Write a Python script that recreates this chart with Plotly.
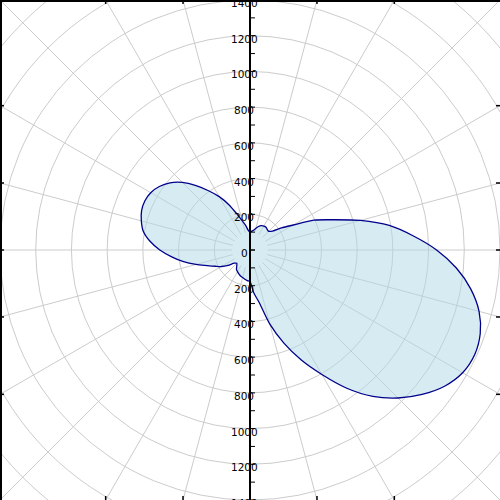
import numpy as np
import plotly.graph_objects as go

# ---- data ----
theta_deg = list(range(0, 360, 5))
radius = [
    1045, 916, 792, 640, 495, 395, 280, 215, 165, 148,      # 0-45
    150, 156, 155, 150, 140, 125, 112, 105, 100, 110,       # 50-95
    140, 170, 215, 280, 345, 405, 470, 535, 585, 620,       # 100-145
    642, 650, 646, 630, 607, 562, 505, 440, 378, 313,       # 150-195
    255, 215, 185, 150, 115, 105, 115, 132, 140, 148,       # 200-245
    155, 160, 166, 172, 177, 240, 300, 430, 555, 680,       # 250-295
    805, 945, 1070, 1172, 1258, 1330, 1375, 1388, 1372, 1328, 1255, 1160,  # 300-355
]
radial_labels = [0, 200, 400, 600, 800, 1000, 1200, 1400]
grid_circles = [200, 400, 600, 800, 1000, 1200, 1400, 1600, 1800, 2000]
spoke_angles = list(range(0, 360, 15))

RMAX = 1400.0
GRID = "#cccccc"

r_closed = radius + [radius[0]]
t_closed = theta_deg + [theta_deg[0]]

fig = go.Figure()
fig.add_trace(go.Scatterpolar(
    r=r_closed, theta=t_closed, mode="lines", fill="toself",
    fillcolor="rgba(173,216,230,0.5)",
    line=dict(color="#00008b", width=1.3, shape="spline", smoothing=0.8),
    showlegend=False, hoverinfo="skip", subplot="polar",
))
fig.add_trace(go.Scatterpolar(r=[], theta=[], mode="lines",
                              showlegend=False, subplot="polar2"))

def to_paper(r, a):
    return 0.5 + r * np.cos(np.radians(a)) / (2 * RMAX), 0.5 + r * np.sin(np.radians(a)) / (2 * RMAX)

shapes = []
for rc in grid_circles:
    d = rc / (2 * RMAX)
    shapes.append(dict(type="circle", xref="paper", yref="paper",
                       x0=0.5 - d, x1=0.5 + d, y0=0.5 - d, y1=0.5 + d,
                       line=dict(color=GRID, width=1), layer="below"))
for a in spoke_angles:
    x0, y0 = to_paper(100, a)
    x1, y1 = to_paper(2000, a)
    shapes.append(dict(type="line", xref="paper", yref="paper",
                       x0=x0, y0=y0, x1=x1, y1=y1,
                       line=dict(color=GRID, width=1), layer="below"))

# frame ticks where spokes meet the border
tl = 4 / 500
for a in spoke_angles:
    c, s = np.cos(np.radians(a)), np.sin(np.radians(a))
    if abs(abs(c) - abs(s)) < 1e-6:
        continue
    t = RMAX / max(abs(c), abs(s))
    px, py = to_paper(t, a)
    if abs(c) > abs(s):
        ex = 1.0 if c > 0 else 0.0
        shapes.append(dict(type="line", xref="paper", yref="paper",
                           x0=ex, x1=ex - tl if c > 0 else ex + tl, y0=py, y1=py,
                           line=dict(color="black", width=1.5)))
    else:
        ey = 1.0 if s > 0 else 0.0
        shapes.append(dict(type="line", xref="paper", yref="paper",
                           x0=px, x1=px, y0=ey, y1=ey - tl if s > 0 else ey + tl,
                           line=dict(color="black", width=1.5)))

# top and left border
shapes.append(dict(type="line", xref="paper", yref="paper", x0=0, x1=1,
                   y0=1 - 1 / 500, y1=1 - 1 / 500, line=dict(color="black", width=2)))
shapes.append(dict(type="line", xref="paper", yref="paper", x0=1 / 500, x1=1 / 500,
                   y0=0, y1=1, line=dict(color="black", width=2)))

annotations = []
for v in radial_labels:
    ys = [0.5 + v / (2 * RMAX)] if v == 0 else [0.5 + v / (2 * RMAX), 0.5 - v / (2 * RMAX)]
    for y in ys:
        annotations.append(dict(x=0.5, y=y, xref="paper", yref="paper", text=str(v),
                                showarrow=False, xanchor="center", yanchor="middle",
                                xshift=-6, yshift=-3,
                                font=dict(family="DejaVu Sans", size=10.5, color="black")))

radial_common = dict(range=[0, RMAX], showline=True, linecolor="black", linewidth=2,
                     ticks="outside", ticklen=4, tickwidth=1, tickcolor="black",
                     tick0=0, dtick=100, showticklabels=False, showgrid=False)
angular_hidden = dict(showgrid=False, showline=False, showticklabels=False, ticks="")

fig.update_layout(
    width=500, height=500, margin=dict(l=0, r=0, t=0, b=0),
    paper_bgcolor="white", plot_bgcolor="white",
    polar=dict(domain=dict(x=[0, 1], y=[0, 1]), bgcolor="rgba(0,0,0,0)",
               radialaxis=dict(angle=90, side="clockwise", **radial_common),
               angularaxis=angular_hidden),
    polar2=dict(domain=dict(x=[0, 1], y=[0, 1]), bgcolor="rgba(0,0,0,0)",
                radialaxis=dict(angle=270, side="counterclockwise", **radial_common),
                angularaxis=angular_hidden),
    shapes=shapes, annotations=annotations, showlegend=False,
)

fig.write_html("out.html", config={"displayModeBar": False},
               post_script="document.body.style.margin='0px';document.body.style.overflow='hidden';")
